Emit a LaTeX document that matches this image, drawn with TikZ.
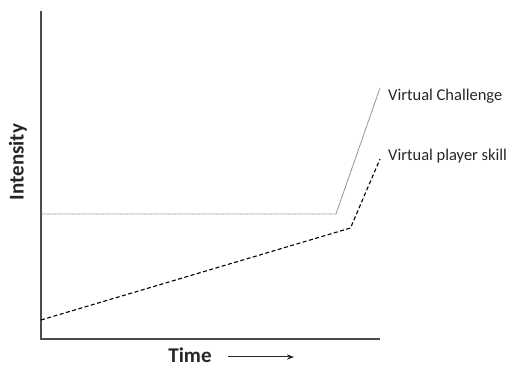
\documentclass[tikz,border=0pt]{standalone}
\usepackage{fontspec}
\setmainfont{Carlito}
\usetikzlibrary{arrows.meta, positioning}
\begin{document}
\begin{tikzpicture}[x=1pt, y=1pt,
    axis/.style={draw=black!70, line width=1.3pt},
    challenge/.style={draw=black!50, line width=0.9pt, dash pattern=on 0.7pt off 0.5pt},
    skill/.style={draw=black, line width=1.1pt, dash pattern=on 4pt off 2.5pt},
    curvelabel/.style={anchor=base west, inner sep=0pt, text=black!85,
        font=\fontsize{16.5}{18}\selectfont},
    axislabel/.style={inner sep=0pt, text=black!85,
        font=\fontsize{21}{23}\selectfont\bfseries},
]
\useasboundingbox (0,0) rectangle (514,369);

% axes
\coordinate (origin) at (41,30);
\coordinate (ytop) at (41,358);
\coordinate (xend) at (380,30);
\draw[axis] (ytop) -- (origin) -- (xend);

% Virtual Challenge (flat, then steep rise)
\coordinate (c0) at (41,155);
\coordinate (c1) at (336,155);
\coordinate (c2) at (380,281);
\draw[challenge] (c0) -- (c1) -- (c2);
\node[curvelabel] (clabel) at (388,268) {Virtual Challenge};

% Virtual player skill (slow growth, then steep rise)
\coordinate (s0) at (41,49);
\coordinate (s1) at (350.5,141);
\coordinate (s2) at (380,210);
\draw[skill] (s0) -- (s1) -- (s2);
\node[curvelabel] (slabel) at (388,208) {Virtual player skill};

% axis labels
\node[axislabel] (time) at (190,14) {Time};
\coordinate (tstart) at (228,12);
\coordinate (tend) at (294,12);
\draw[black!85, line width=1pt, -{Stealth[length=2.5mm]}] (tstart) -- (tend);
\node[axislabel, rotate=90] (intensity) at (18,207) {Intensity};

\end{tikzpicture}
\end{document}
